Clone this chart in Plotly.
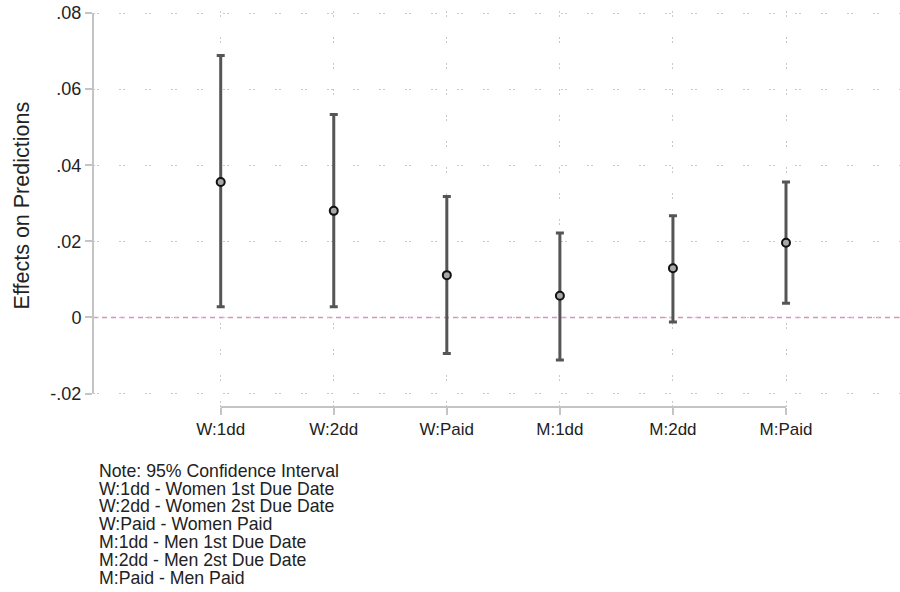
import plotly.graph_objects as go

# ---- data ----
categories = ["W:1dd", "W:2dd", "W:Paid", "M:1dd", "M:2dd", "M:Paid"]
estimates = [0.0356, 0.0280, 0.0111, 0.0057, 0.0129, 0.0196]
ci_upper = [0.0688, 0.0533, 0.0318, 0.0222, 0.0267, 0.0356]
ci_lower = [0.0028, 0.0028, -0.0095, -0.0112, -0.0012, 0.0037]
y_tickvals = [-0.02, 0, 0.02, 0.04, 0.06, 0.08]
y_ticktext = ["-.02", "0", ".02", ".04", ".06", ".08"]
note_lines = [
    "Note: 95% Confidence Interval",
    "W:1dd - Women 1st Due Date",
    "W:2dd - Women 2st Due Date",
    "W:Paid - Women Paid",
    "M:1dd - Men 1st Due Date",
    "M:2dd - Men 2st Due Date",
    "M:Paid - Men Paid",
]

xpos = list(range(1, len(categories) + 1))
err_plus = [u - e for u, e in zip(ci_upper, estimates)]
err_minus = [e - l for e, l in zip(estimates, ci_lower)]

FONT = "Liberation Sans, Arial, Helvetica, sans-serif"
TXT = "#222222"
AXC = "#c4c4c4"
GRIDC = "#c8c8c8"

# the page's body margin is removed (post_script), so figure pixels == page pixels
W, H = 900, 592
y_top, y_low = 0.08, -0.02
px_per_unit = (393.5 - 13.0) / (y_top - y_low)
top_pad = 2.0  # px of headroom above .08
y_range_top = y_top + top_pad / px_per_unit
ML, MR = 93, 0
MT = 13 - top_pad
plot_bottom = 407
MB = H - plot_bottom
plot_w = W - ML - MR
plot_h = plot_bottom - MT
y_bottom = y_low - (407 - 393.5) / px_per_unit

fig = go.Figure()
fig.add_trace(go.Scatter(
    x=xpos, y=estimates, mode="markers",
    error_y=dict(type="data", symmetric=False, array=err_plus, arrayminus=err_minus,
                 color="#555555", thickness=3, width=4),
    marker=dict(symbol="circle", size=8, color="#a8a8a8",
                line=dict(color="#111111", width=2)),
    showlegend=False,
    hoverinfo="skip",
))

# pink dashed zero reference line
fig.add_shape(type="line", xref="paper", yref="y", x0=0, x1=1, y0=0, y1=0,
              line=dict(color="#d494bc", width=1.5, dash="5px,4px"), layer="below")
# y axis line (only across tick range)
fig.add_shape(type="line", xref="paper", yref="y", x0=0, x1=0, y0=y_low, y1=y_top,
              line=dict(color=AXC, width=2))
# x axis line (only across categories)
fig.add_shape(type="line", xref="x", yref="paper", x0=xpos[0], x1=xpos[-1], y0=0, y1=0,
              line=dict(color=AXC, width=2))

# y axis title
fig.add_annotation(text="Effects on Predictions", xref="paper", yref="y",
                   x=(21.5 - ML) / plot_w, y=(y_top + y_low) / 2 - 0.0007,
                   textangle=-90, showarrow=False, xanchor="center", yanchor="middle",
                   font=dict(family=FONT, size=21.5, color=TXT))

# note lines
for i, line in enumerate(note_lines):
    py = 470.7 + i * 17.85
    fig.add_annotation(text=line, xref="paper", yref="paper",
                       x=(97 - ML) / plot_w, y=(plot_bottom - py) / plot_h,
                       xanchor="left", yanchor="middle", showarrow=False,
                       font=dict(family=FONT, size=17.7, color=TXT))

fig.update_layout(
    width=W, height=H,
    margin=dict(l=ML, r=MR, t=MT, b=MB, pad=0, autoexpand=False),
    paper_bgcolor="white", plot_bgcolor="white",
    font=dict(family=FONT, size=17, color=TXT),
    xaxis=dict(
        range=[1 - 127.7 / 113.06, 1 + 679.3 / 113.06],
        tickmode="array", tickvals=xpos, ticktext=categories,
        showline=False, zeroline=False, automargin=False,
        ticks="outside", ticklen=7, tickwidth=2, tickcolor=AXC,
        showgrid=True, gridcolor=GRIDC, gridwidth=1, griddash="2px,2px,2px,20px",
        tickfont=dict(family=FONT, size=17, color=TXT),
    ),
    yaxis=dict(
        range=[y_bottom, y_range_top],
        tickmode="array", tickvals=y_tickvals, ticktext=y_ticktext,
        showline=False, zeroline=False, ticklabeloverflow="allow", automargin=False,
        ticks="outside", ticklen=7, tickwidth=2, tickcolor=AXC,
        showgrid=True, gridcolor=GRIDC, gridwidth=1, griddash="2px,2px,2px,20px",
        tickfont=dict(family=FONT, size=18, color=TXT),
    ),
)

fig.write_html("out.html",
               config={"displayModeBar": False},
               post_script="document.body.style.margin='0';document.body.style.overflow='hidden';")
